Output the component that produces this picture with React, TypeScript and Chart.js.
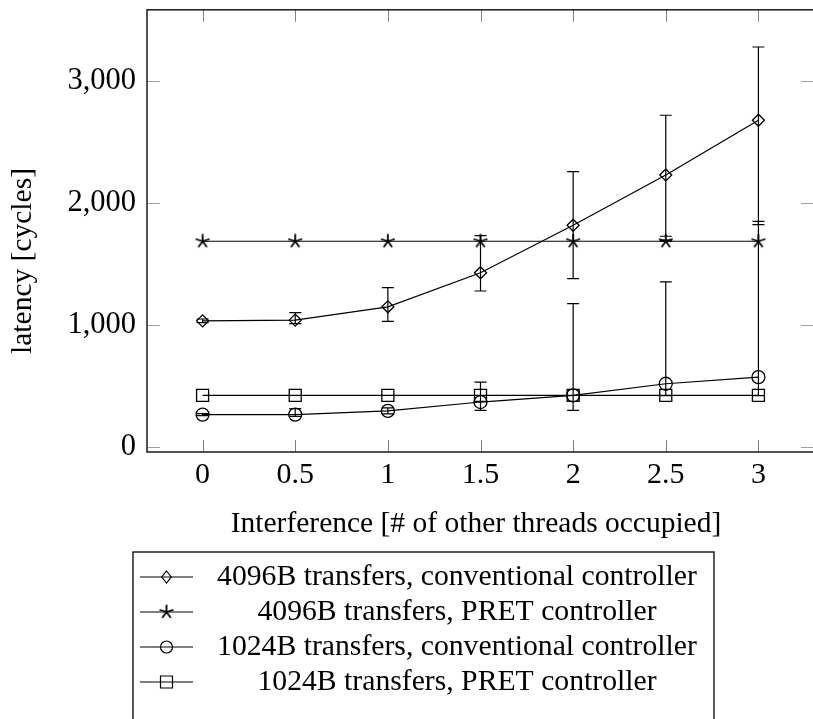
import React, { useEffect, useRef } from 'react';
import { Chart, registerables } from 'chart.js';

Chart.register(...registerables);

// ---------- data ----------
const xValues = [0, 0.5, 1, 1.5, 2, 2.5, 3];
const xTickValues = [0, 0.5, 1, 1.5, 2, 2.5, 3];
const yTickValues = [0, 1000, 2000, 3000];

const seriesLabels = [
  '4096B transfers, conventional controller',
  '4096B transfers, PRET controller',
  '1024B transfers, conventional controller',
  '1024B transfers, PRET controller',
];

const conv4096 = [1033, 1039, 1148, 1428, 1817, 2230, 2679];
const conv4096Upper = [1048, 1101, 1305, 1733, 2258, 2720, 3280];
const conv4096Lower = [1018, 1010, 1028, 1278, 1379, 1727, 1822];

const pret4096 = [1686, 1686, 1686, 1686, 1686, 1686, 1686];
const pret4096Upper = [1686, 1686, 1686, 1686, 1686, 1695, 1686];
const pret4096Lower = [1686, 1686, 1686, 1686, 1686, 1686, 1686];

const conv1024 = [264, 264, 294, 367, 422, 517, 571];
const conv1024Upper = [272, 313, 319, 530, 1175, 1352, 1849];
const conv1024Lower = [256, 250, 270, 299, 299, 420, 420];

const pret1024 = [422, 422, 422, 422, 422, 422, 422];
const pret1024Upper = [422, 422, 422, 422, 422, 422, 422];
const pret1024Lower = [422, 422, 422, 422, 422, 422, 422];

const xTitle = 'Interference [# of other threads occupied]';
const yTitle = 'latency [cycles]';

const FONT = "'Liberation Serif', 'Times New Roman', serif";

function makeStar(): HTMLCanvasElement {
  const c = document.createElement('canvas');
  c.width = 16;
  c.height = 16;
  const g = c.getContext('2d')!;
  g.strokeStyle = '#000';
  g.lineWidth = 1.8;
  g.lineCap = 'round';
  g.beginPath();
  for (let k = 0; k < 5; k++) {
    const ang = -Math.PI / 2 + (k * 2 * Math.PI) / 5;
    g.moveTo(8, 8);
    g.lineTo(8 + 6.5 * Math.cos(ang), 8 + 6.5 * Math.sin(ang));
  }
  g.stroke();
  return c;
}

export default function App() {
  const ref = useRef<HTMLCanvasElement | null>(null);

  useEffect(() => {
    const canvas = ref.current;
    if (!canvas) return;
    const star = makeStar();

    const seriesValues = [conv4096, pret4096, conv1024, pret1024];
    const seriesUpper = [conv4096Upper, pret4096Upper, conv1024Upper, pret1024Upper];
    const seriesLower = [conv4096Lower, pret4096Lower, conv1024Lower, pret1024Lower];
    const styles: any[] = ['rectRot', star, 'circle', 'rect'];
    const radii = [6, 8, 6.5, 8.5];

    const datasets = seriesValues.map((vals, i) => ({
      label: seriesLabels[i],
      data: xValues.map((x, j) => ({ x, y: vals[j] })),
      borderColor: '#000',
      borderWidth: 1.2,
      backgroundColor: 'rgba(0,0,0,0)',
      pointStyle: styles[i],
      pointRadius: radii[i],
      pointBorderColor: '#000',
      pointBackgroundColor: 'rgba(0,0,0,0)',
      pointBorderWidth: 1.3,
      tension: 0,
      fill: false,
    }));

    const framePlugin = {
      id: 'frameTicks',
      beforeDatasetsDraw(chart: any) {
        const { ctx, chartArea: a, scales } = chart;
        ctx.save();
        ctx.lineWidth = 1;
        ctx.strokeStyle = '#a0a0a0';
        for (const v of yTickValues) {
          const y = Math.round(scales.y.getPixelForValue(v)) + 0.5;
          ctx.beginPath();
          ctx.moveTo(a.left, y);
          ctx.lineTo(a.left + 13, y);
          ctx.moveTo(a.right, y);
          ctx.lineTo(a.right - 13, y);
          ctx.stroke();
        }
        ctx.strokeStyle = '#808080';
        for (const v of xTickValues) {
          const x = Math.round(scales.x.getPixelForValue(v)) + 0.5;
          ctx.beginPath();
          ctx.moveTo(x, a.bottom);
          ctx.lineTo(x, a.bottom - 12);
          ctx.moveTo(x, a.top);
          ctx.lineTo(x, a.top + 12);
          ctx.stroke();
        }
        ctx.lineWidth = 1.5;
        ctx.strokeStyle = '#1a1a1a';
        ctx.strokeRect(a.left, a.top, a.right - a.left, a.bottom - a.top);
        ctx.restore();
      },
    };

    const errorPlugin = {
      id: 'errorBars',
      afterDatasetsDraw(chart: any) {
        const { ctx, scales } = chart;
        ctx.save();
        ctx.strokeStyle = '#000';
        ctx.lineWidth = 1.2;
        seriesValues.forEach((vals, i) => {
          vals.forEach((v, j) => {
            const up = seriesUpper[i][j];
            const lo = seriesLower[i][j];
            if (up === v && lo === v) return;
            const x = scales.x.getPixelForValue(xValues[j]);
            const yU = scales.y.getPixelForValue(up);
            const yL = scales.y.getPixelForValue(lo);
            ctx.beginPath();
            ctx.moveTo(x, yU);
            ctx.lineTo(x, yL);
            ctx.moveTo(x - 6, yU);
            ctx.lineTo(x + 6, yU);
            ctx.moveTo(x - 6, yL);
            ctx.lineTo(x + 6, yL);
            ctx.stroke();
          });
        });
        ctx.restore();
      },
    };

    const textPlugin = {
      id: 'texts',
      afterDraw(chart: any) {
        const { ctx } = chart;
        ctx.save();
        ctx.fillStyle = '#000';
        ctx.font = `29.5px ${FONT}`;
        // y title
        ctx.save();
        ctx.translate(31, 261);
        ctx.rotate(-Math.PI / 2);
        ctx.textAlign = 'center';
        ctx.textBaseline = 'alphabetic';
        ctx.fillText(yTitle, 0, 0);
        ctx.restore();
        // x title
        ctx.textAlign = 'center';
        ctx.textBaseline = 'alphabetic';
        ctx.fillText(xTitle, 476, 532);
        // legend
        const boxL = 133;
        const boxR = 714;
        const boxT = 552;
        ctx.lineWidth = 1.3;
        ctx.strokeStyle = '#000';
        ctx.strokeRect(boxL, boxT, boxR - boxL, 260);
        ctx.font = `29.7px ${FONT}`;
        const baselines = [585, 620, 655, 690];
        const lx1 = 140;
        const lx2 = 193;
        const mx = (lx1 + lx2) / 2;
        baselines.forEach((b, i) => {
          const cy = b - 8;
          ctx.lineWidth = 1.2;
          ctx.beginPath();
          ctx.moveTo(lx1, cy);
          ctx.lineTo(lx2, cy);
          ctx.stroke();
          ctx.beginPath();
          if (i === 0) {
            const r = 6;
            ctx.moveTo(mx, cy - r);
            ctx.lineTo(mx + r * 0.8, cy);
            ctx.lineTo(mx, cy + r);
            ctx.lineTo(mx - r * 0.8, cy);
            ctx.closePath();
            ctx.stroke();
          } else if (i === 1) {
            ctx.drawImage(star, mx - 8, cy - 8);
          } else if (i === 2) {
            ctx.arc(mx, cy, 6, 0, Math.PI * 2);
            ctx.stroke();
          } else {
            ctx.rect(mx - 6, cy - 6, 12, 12);
            ctx.stroke();
          }
          ctx.textAlign = 'center';
          ctx.fillText(seriesLabels[i], 457, b);
        });
        ctx.restore();
      },
    };

    const zeroPad = (s: any) => {
      s.paddingTop = 0;
      s.paddingBottom = 0;
      s.paddingLeft = 0;
      s.paddingRight = 0;
    };

    const chart = new Chart(canvas, {
      type: 'line',
      data: { datasets: datasets as any },
      options: {
        animation: false,
        responsive: false,
        devicePixelRatio: 1,
        layout: { padding: { top: 7, right: 16, left: 0, bottom: 0 } },
        plugins: { legend: { display: false }, tooltip: { enabled: false } },
        scales: {
          x: {
            type: 'linear',
            min: -0.3,
            max: 3.3,
            grid: { display: false, drawTicks: false },
            border: { display: false },
            afterBuildTicks: (s: any) => {
              s.ticks = xTickValues.map((v) => ({ value: v }));
            },
            afterFit: (s: any) => {
              s.height = 267;
              zeroPad(s);
            },
            ticks: {
              color: '#000',
              font: { family: FONT, size: 30 },
              padding: 5,
              maxRotation: 0,
              autoSkip: false,
              callback: (v: any) => String(v),
            },
          },
          y: {
            type: 'linear',
            min: -43,
            max: 3585,
            grid: { display: false, drawTicks: false },
            border: { display: false },
            afterBuildTicks: (s: any) => {
              s.ticks = yTickValues.map((v) => ({ value: v }));
            },
            afterFit: (s: any) => {
              s.width = 147;
              zeroPad(s);
            },
            ticks: {
              color: '#000',
              font: { family: FONT, size: 30.5 },
              padding: 11,
              autoSkip: false,
              callback: (v: any) => Number(v).toLocaleString('en-US'),
            },
          },
        },
      },
      plugins: [framePlugin, errorPlugin, textPlugin],
    });

    return () => chart.destroy();
  }, []);

  return (
    <div
      style={{
        position: 'absolute',
        left: 0,
        top: 0,
        width: 813,
        height: 719,
        overflow: 'hidden',
        background: '#fff',
      }}
    >
      <canvas ref={ref} width={830} height={719} style={{ display: 'block', width: 830, height: 719 }} />
    </div>
  );
}
